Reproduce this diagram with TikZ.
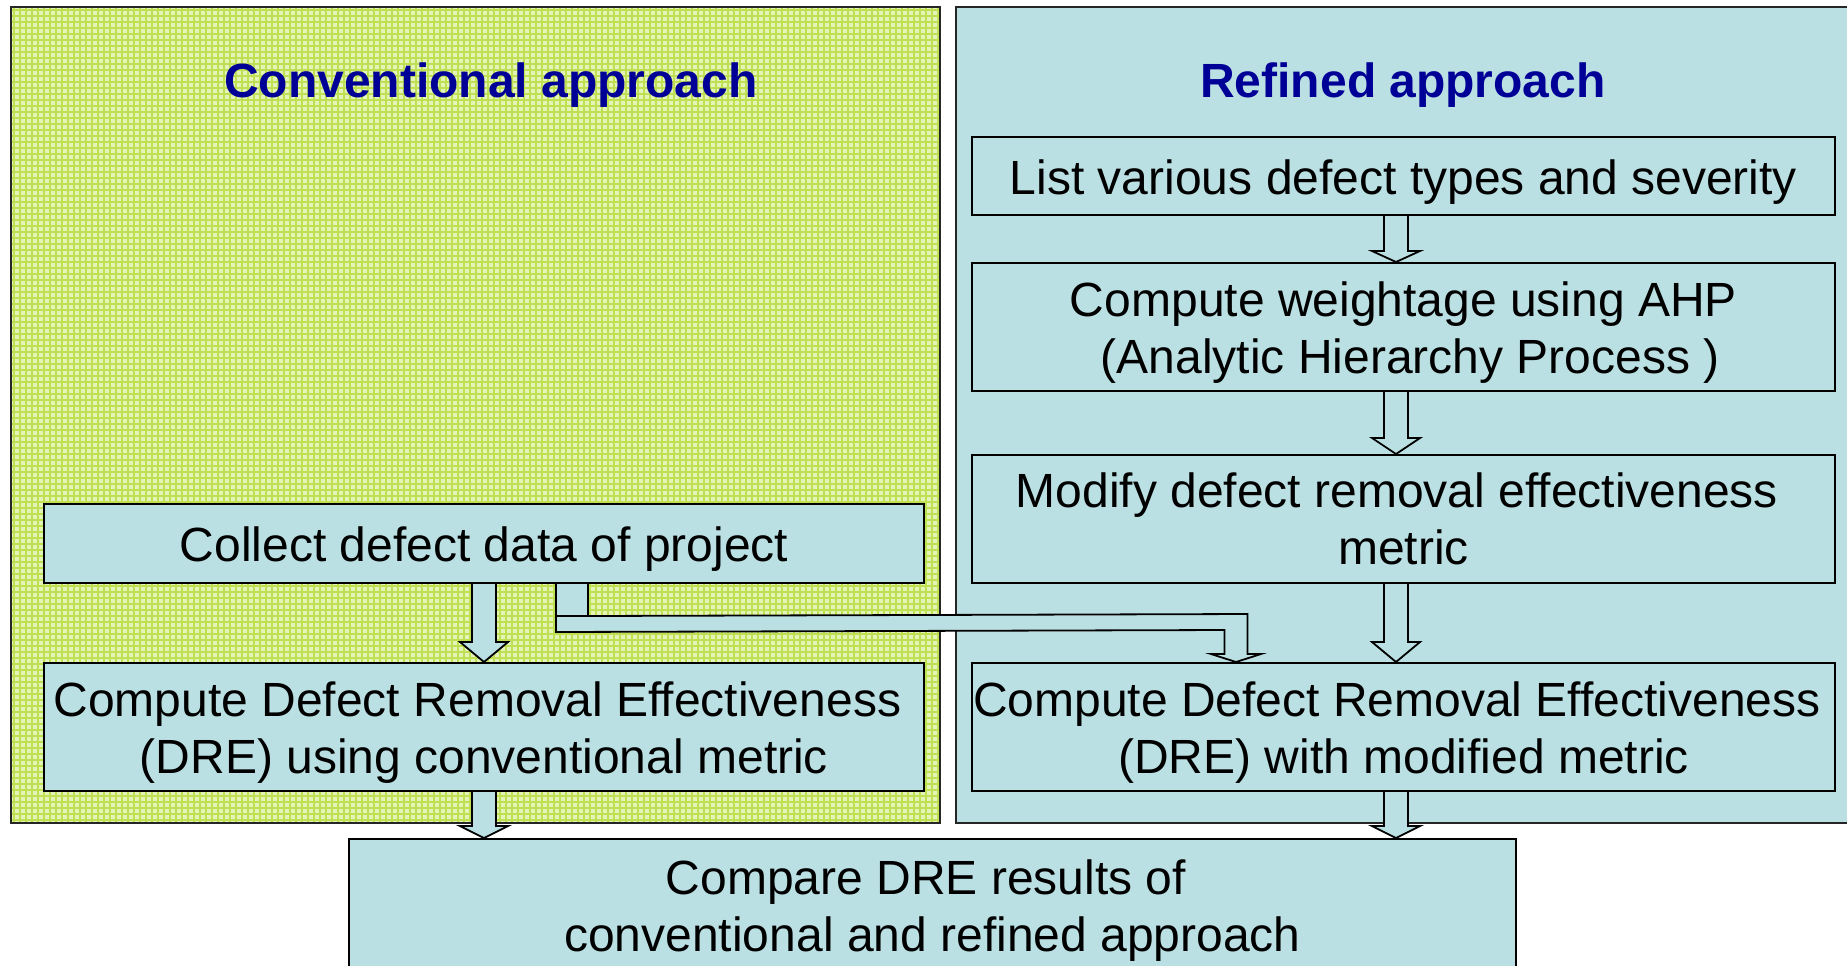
\documentclass[tikz,border=0pt]{standalone}
\usepackage{fontspec}
\setmainfont{Liberation Sans}
\usetikzlibrary{calc}

\definecolor{boxfill}{RGB}{187,224,227}
\definecolor{titleblue}{RGB}{0,0,150}
\definecolor{gridbase}{RGB}{228,243,182}
\definecolor{gridline}{RGB}{192,224,84}

% width of one word space at the text size
\newcommand\wsp{\rule{0.278em}{0pt}}

\tikzset{
  panel/.style={draw=black!85, line width=1pt},
  stepbox/.style={draw=black, line width=1pt, fill=boxfill, inner sep=0pt, anchor=center},
  steptext/.style={align=center, inner sep=0pt, yshift=-3pt,
    font=\fontsize{24pt}{28.5pt}\selectfont},
  heading/.style={text=titleblue, font=\fontsize{24pt}{28pt}\selectfont\bfseries},
  blockarrow/.style={draw=black, line width=0.9pt, fill=boxfill, line join=miter},
}

% hollow block arrow pointing down: source node, target node, x coordinate, head length
\newcommand\blockdown[4]{%
  \draw[blockarrow]
    ($(#1.south -| #3)+(-6pt,0pt)$) --
    ($(#2.north -| #3)+(-6pt,#4)$) --
    ($(#2.north -| #3)+(-12pt,#4)$) --
    (#2.north -| #3) --
    ($(#2.north -| #3)+(12pt,#4)$) --
    ($(#2.north -| #3)+(6pt,#4)$) --
    ($(#1.south -| #3)+(6pt,0pt)$);
}

\begin{document}
\begin{tikzpicture}[x=0.5pt,y=-0.5pt]
\useasboundingbox (0,0) rectangle (1847,965);
\clip (0,0) rectangle (1847,965);

% left panel with grid texture
\begin{scope}
  \clip (11,7) rectangle (940,823);
  \fill[gridbase] (11,7) rectangle (940,823);
  \foreach \gx in {14,20,...,940} \draw[gridline, line width=1pt] (\gx,7) -- (\gx,823);
  \foreach \gy in {10,16,...,823} \draw[gridline, line width=1pt] (11,\gy) -- (940,\gy);
\end{scope}
\draw[panel] (11,7) rectangle (940,823);

% right panel
\draw[panel, fill=boxfill] (956,7) rectangle (1870,823);

% headings
\node[heading] (convtitle) at (491,85) {Conventional approach};
\node[heading] (reftitle) at (1403,85) {Refined approach};

% steps
\node[stepbox, minimum width=440pt, minimum height=39.5pt,
  label={[steptext]center:{Collect defect data of project}}] (collect) at (484,543.5) {};
\node[stepbox, minimum width=440pt, minimum height=64pt,
  label={[steptext]center:{Compute Defect Removal Effectiveness\wsp\\(DRE) using conventional metric}}]
  (conv) at (484,727) {};
\node[stepbox, minimum width=431.5pt, minimum height=39pt,
  label={[steptext]center:{List various defect types and severity}}] (list) at (1403.5,176) {};
\node[stepbox, minimum width=431.5pt, minimum height=64pt,
  label={[steptext]center:{Compute weightage using AHP\\\wsp(Analytic Hierarchy Process )}}]
  (ahp) at (1403.5,327) {};
\node[stepbox, minimum width=431.5pt, minimum height=64pt,
  label={[steptext, yshift=3pt]center:{Modify defect removal effectiveness\wsp\\metric}}]
  (modify) at (1403.5,519) {};
\node[stepbox, minimum width=431.5pt, minimum height=64pt,
  label={[steptext]center:{Compute Defect Removal Effectiveness\wsp\\(DRE) with modified metric}}]
  (dre) at (1403.5,727) {};
\node[stepbox, minimum width=583.5pt, minimum height=65.5pt,
  label={[steptext]center:{Compare DRE results of\wsp\\conventional and refined approach}}]
  (compare) at (932.5,904.5) {};

% arrow columns
\coordinate (leftcol) at (484,0);
\coordinate (rightcol) at (1396,0);
\coordinate (bendstart) at (572,0);
\coordinate (bendend) at (1236,0);

% straight block arrows
\blockdown{list}{ahp}{rightcol}{5.5pt}
\blockdown{ahp}{modify}{rightcol}{8pt}
\blockdown{modify}{dre}{rightcol}{10pt}
\blockdown{dre}{compare}{rightcol}{6pt}
\blockdown{collect}{conv}{leftcol}{10pt}
\blockdown{conv}{compare}{leftcol}{6pt}

% bent block arrow from the collected data to the modified metric step
\draw[blockarrow]
  ($(collect.south -| bendstart)+(-8pt,0pt)$) --
  ($(collect.south -| bendstart)+(-8pt,-24pt)$) --
  ($(dre.north -| bendend)+(-5.75pt,16pt)$) --
  ($(dre.north -| bendend)+(-5.75pt,4pt)$) --
  ($(dre.north -| bendend)+(-12.5pt,4pt)$) --
  (dre.north -| bendend) --
  ($(dre.north -| bendend)+(12.5pt,4pt)$) --
  ($(dre.north -| bendend)+(5.75pt,4pt)$) --
  ($(dre.north -| bendend)+(5.75pt,24pt)$) --
  ($(collect.south -| bendstart)+(8pt,-16pt)$) --
  ($(collect.south -| bendstart)+(8pt,0pt)$);
\draw[black, line width=0.9pt]
  ($(collect.south -| bendstart)+(-8pt,-16pt)$) -- ($(collect.south -| bendstart)+(8pt,-16pt)$);
\end{tikzpicture}
\end{document}
